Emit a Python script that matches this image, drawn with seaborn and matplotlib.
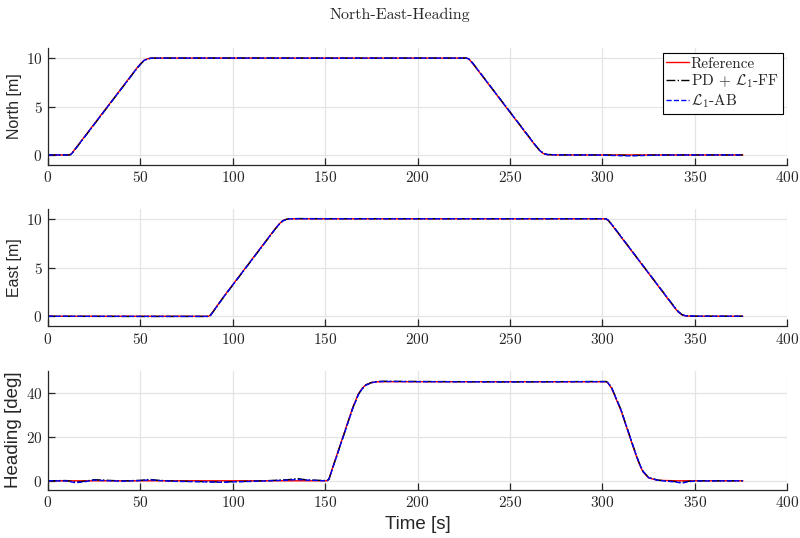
import numpy as np
import pandas as pd
import matplotlib
matplotlib.use("Agg")
import matplotlib.pyplot as plt
import seaborn as sns

# ---- North [m] ----
t_north = [0, 11, 12, 13, 20, 30, 40, 48, 50, 52, 54, 56, 60, 100, 150, 200, 226, 227, 228,
           230, 240, 250, 260, 264, 266, 268, 270, 275, 290, 300, 310, 315, 320, 330, 350, 376]
north_ref = [0, 0, 0.03, 0.2, 1.95, 4.45, 6.95, 8.95, 9.4, 9.78, 9.94, 9.99, 10, 10, 10, 10, 10,
             9.97, 9.85, 9.4, 6.9, 4.4, 1.9, 0.9, 0.45, 0.15, 0.03, 0, 0, 0, 0, 0, 0, 0, 0, 0]
north_pd = [0, 0, 0.01, 0.15, 1.9, 4.4, 6.9, 8.9, 9.35, 9.75, 9.93, 9.99, 10, 10.01, 10, 10, 10,
            9.98, 9.87, 9.45, 6.95, 4.45, 1.95, 0.95, 0.5, 0.18, 0.05, 0.01, 0, 0, -0.03, -0.05, -0.04, 0, 0, 0]
north_ab = [0, 0, 0.01, 0.16, 1.92, 4.42, 6.92, 8.92, 9.37, 9.76, 9.93, 9.99, 10, 10, 9.99, 10, 10,
            9.98, 9.86, 9.43, 6.93, 4.43, 1.93, 0.93, 0.48, 0.17, 0.04, 0.01, 0, -0.02, -0.08, -0.1, -0.07, -0.02, 0, 0]

# ---- East [m] ----
t_east = [0, 50, 86, 87, 88, 95, 105, 115, 123, 125, 127, 129, 131, 135, 150, 200, 250, 301,
          302, 303, 305, 315, 325, 335, 339, 341, 343, 345, 350, 376]
east_ref = [0, 0, 0, 0, 0.15, 2.0, 4.5, 7.0, 9.0, 9.45, 9.8, 9.95, 10, 10, 10, 10, 10, 10,
            9.97, 9.85, 9.4, 6.9, 4.4, 1.9, 0.9, 0.45, 0.15, 0.03, 0, 0]
east_pd = [0, -0.02, -0.02, -0.01, 0.1, 1.95, 4.45, 6.95, 8.95, 9.4, 9.77, 9.94, 10, 10.02, 10.01, 10, 10, 10,
           9.98, 9.88, 9.45, 6.95, 4.45, 1.95, 0.95, 0.5, 0.18, 0.05, 0.01, 0]
east_ab = [0, -0.01, -0.01, 0, 0.12, 1.97, 4.47, 6.97, 8.97, 9.42, 9.78, 9.94, 10, 10.01, 10, 10, 10, 10,
           9.98, 9.87, 9.43, 6.93, 4.43, 1.93, 0.93, 0.48, 0.17, 0.04, 0.01, 0]

# ---- Heading [deg] ----
t_head = [0, 10, 15, 20, 25, 30, 40, 50, 55, 60, 70, 80, 90, 95, 100, 110, 120, 130, 135, 140,
          150, 151, 152, 155, 160, 165, 168, 170, 172, 175, 178, 182, 200, 250, 300, 302, 303,
          305, 310, 315, 318, 320, 322, 325, 330, 340, 343, 346, 350, 376]
head_ref = [0, 0, 0, 0, 0, 0, 0, 0, 0, 0, 0, 0, 0, 0, 0, 0, 0, 0, 0, 0,
            0, 0, 0.8, 8.5, 21, 33.5, 39.5, 42, 43.6, 44.6, 44.95, 45, 45, 45, 45, 45, 44.4,
            42, 32, 19.5, 12, 7.5, 4, 1.3, 0.2, 0, 0, 0, 0, 0]
head_pd = [0, 0.1, -0.6, -0.2, 0.5, 0.3, -0.1, 0.2, 0.6, 0.2, -0.2, -0.3, -0.5, -0.6, -0.4, -0.2, 0.1, 0.5, 1.0, 0.4,
           0.1, 0.1, 0.7, 8.2, 20.7, 33.2, 39.3, 41.8, 43.5, 44.6, 45.1, 45.2, 45.1, 44.9, 45.1, 45.1, 44.6,
           42.3, 32.4, 19.9, 12.4, 7.9, 4.3, 1.5, 0.3, -0.4, -0.8, -0.3, 0, 0]
head_ab = [0, -0.1, -0.9, -0.4, 0.3, 0.1, -0.2, 0.1, 0.4, 0.1, -0.3, -0.4, -0.6, -0.7, -0.5, -0.3, 0, 0.3, 0.6, 0.3,
           0, 0, 0.6, 8.1, 20.6, 33.1, 39.2, 41.7, 43.4, 44.5, 45.0, 45.1, 45.0, 44.9, 45.0, 45.0, 44.5,
           42.2, 32.3, 19.8, 12.3, 7.8, 4.2, 1.4, 0.2, -0.6, -1.1, -0.5, -0.1, 0]

series_labels = ["Reference", r"PD + $\mathcal{L}_1$-FF", r"$\mathcal{L}_1$-AB"]
series_colors = ["#ff0000", "#000000", "#0000ff"]
series_dashes = ["-", "-.", "--"]

sns.set_theme(style="whitegrid")
plt.rcParams.update({
    "font.family": "serif",
    "font.serif": ["cmr10", "DejaVu Serif"],
    "mathtext.fontset": "cm",
    "axes.formatter.use_mathtext": True,
    "axes.edgecolor": "#262626",
    "axes.linewidth": 0.9,
    "grid.color": "#e4e4e4",
    "grid.linewidth": 0.9,
    "xtick.direction": "in",
    "ytick.direction": "in",
    "xtick.bottom": True,
    "ytick.left": True,
})

fig = plt.figure(figsize=(8.0, 5.38), dpi=100)
boxes = [
    [0.060, 0.694, 0.924, 0.216],
    [0.060, 0.394, 0.924, 0.2175],
    [0.060, 0.090, 0.924, 0.221],
]
panels = [
    (t_north, [north_ref, north_pd, north_ab], "North [m]", (-1, 11), [0, 5, 10], 11.5),
    (t_east, [east_ref, east_pd, east_ab], "East [m]", (-1, 11), [0, 5, 10], 11.5),
    (t_head, [head_ref, head_pd, head_ab], "Heading [deg]", (-4, 50), [0, 20, 40], 13.5),
]

axes = []
for box, (tt, ys, ylabel, ylim, yticks, lsize) in zip(boxes, panels):
    ax = fig.add_axes(box)
    for y, lab, col, ls in zip(ys, series_labels, series_colors, series_dashes):
        df = pd.DataFrame({"t": tt, "v": y})
        sns.lineplot(data=df, x="t", y="v", ax=ax, color=col, linestyle=ls,
                     linewidth=1.0, label=lab, legend=False, estimator=None, sort=False)
    ax.set_xlim(0, 400)
    ax.set_ylim(*ylim)
    ax.set_xticks(np.arange(0, 401, 50))
    ax.set_yticks(yticks)
    ax.set_xlabel("")
    ax.set_ylabel(ylabel, fontfamily="Liberation Sans", fontsize=lsize, color="#262626", labelpad=3)
    ax.tick_params(axis="both", which="major", bottom=True, left=True, direction="in",
                   labelsize=11, colors="#262626", length=5, width=0.9,
                   pad=4, labelcolor="#262626")
    ax.spines["top"].set_visible(False)
    ax.spines["right"].set_visible(False)
    ax.grid(True, which="major")
    ax.set_facecolor("white")
    axes.append(ax)

axes[2].set_xlabel("Time [s]", fontfamily="Liberation Sans", fontsize=13.5, color="#262626", labelpad=4)

leg = axes[0].legend(loc="upper right", fontsize=11, frameon=True, fancybox=False,
                     edgecolor="#000000", framealpha=1, handlelength=1.5, handletextpad=0.1,
                     borderpad=0.25, labelspacing=0.15, borderaxespad=0.3)
leg.get_frame().set_linewidth(0.8)

fig.suptitle("North-East-Heading", y=0.985, fontsize=11.5, color="#262626")

fig.savefig("out.png", dpi=100, facecolor="white")
